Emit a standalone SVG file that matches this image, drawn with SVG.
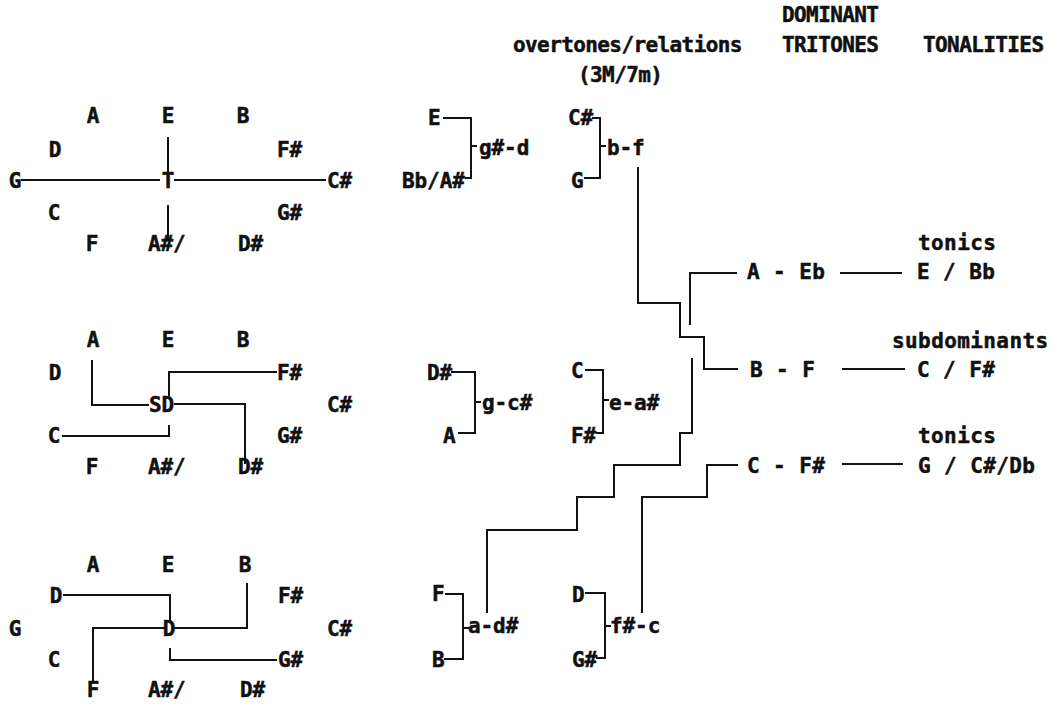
<svg xmlns="http://www.w3.org/2000/svg" width="1054" height="705" viewBox="0 0 1054 705">
<style>
text{font-family:"DejaVu Sans Mono","Liberation Mono",monospace;font-weight:bold;font-size:21px;fill:#111;stroke:#111;stroke-width:0.5;letter-spacing:-0.1px}
.h{letter-spacing:-0.6px}
.m{text-anchor:middle}
.r{letter-spacing:0.4px}
path{fill:none;stroke:#111;stroke-width:2}
</style>
<rect width="1054" height="705" fill="#fff"/>
<g id="headers">
<text class="h" x="782" y="22">DOMINANT</text>
<text class="h" x="513" y="52">overtones/relations</text>
<text class="h" x="782" y="52">TRITONES</text>
<text class="h" x="923" y="52">TONALITIES</text>
<text class="h" x="578" y="82">(3M/7m)</text>
</g>
<g id="tonic-circle">
<text class="m" x="93" y="123">A</text><text class="m" x="168" y="123">E</text><text class="m" x="243" y="123">B</text>
<text class="m" x="55" y="157">D</text><text x="277" y="157">F#</text>
<text class="m" x="15" y="188">G</text><text class="m" x="168" y="188">T</text><text x="327" y="188">C#</text>
<text class="m" x="54" y="220">C</text><text x="277" y="220">G#</text>
<text class="m" x="92" y="251">F</text><text x="148" y="251">A#/</text><text x="238" y="251">D#</text>
</g>
<g id="subdominant-circle">
<text class="m" x="93" y="347">A</text><text class="m" x="168" y="347">E</text><text class="m" x="243" y="347">B</text>
<text class="m" x="55" y="380">D</text><text x="277" y="380">F#</text>
<text x="149" y="412">SD</text><text x="327" y="412">C#</text>
<text class="m" x="54" y="443">C</text><text x="277" y="443">G#</text>
<text class="m" x="92" y="474">F</text><text x="148" y="474">A#/</text><text x="238" y="474">D#</text>
</g>
<g id="dominant-circle">
<text class="m" x="93" y="572">A</text><text class="m" x="168" y="572">E</text><text class="m" x="245" y="572">B</text>
<text class="m" x="56" y="603">D</text><text x="278" y="603">F#</text>
<text class="m" x="15" y="636">G</text><text class="m" x="169" y="636">D</text><text x="327" y="636">C#</text>
<text class="m" x="54" y="667">C</text><text x="278" y="667">G#</text>
<text class="m" x="93" y="697">F</text><text x="148" y="697">A#/</text><text x="240" y="697">D#</text>
</g>
<g id="relation-gs-d">
<text x="428" y="125">E</text><text x="479" y="155">g#-d</text><text x="402" y="188">Bb/A#</text>
</g>
<g id="relation-b-f">
<text x="568" y="125">C#</text><text x="607" y="155">b-f</text><text x="571" y="188">G</text>
</g>
<g id="relation-g-cs">
<text x="427" y="380">D#</text><text x="482" y="410">g-c#</text><text x="443" y="443">A</text>
</g>
<g id="relation-e-as">
<text x="571" y="378">C</text><text x="609" y="410">e-a#</text><text x="571" y="443">F#</text>
</g>
<g id="relation-a-ds">
<text x="432" y="601">F</text><text x="468" y="633">a-d#</text><text x="432" y="667">B</text>
</g>
<g id="relation-fs-c">
<text x="572" y="602">D</text><text x="610" y="633">f#-c</text><text x="572" y="667">G#</text>
</g>
<g id="tritone-A-Eb"><text class="r" x="747" y="279">A - Eb</text></g>
<g id="tritone-B-F"><text class="r" x="750" y="377">B - F</text></g>
<g id="tritone-C-Fs"><text class="r" x="747" y="473">C - F#</text></g>
<g id="tonality-1"><text class="r" x="918" y="250">tonics</text><text class="r" x="917" y="279">E / Bb</text></g>
<g id="tonality-2"><text class="r" x="892" y="348">subdominants</text><text class="r" x="917" y="377">C / F#</text></g>
<g id="tonality-3"><text class="r" x="918" y="443">tonics</text><text class="r" x="918" y="473">G / C#/Db</text></g>
<g id="connectors">
<path d="M21,180 H160 M174,180 H326 M168,137 V174 M168,205 V240"/>
<path d="M92,360 V405 H149 M169,396 V372 H277 M174,404 H245 V464 M62,436 H169 V425"/>
<path d="M63,595 H170 V622 M165,628 H93 V682 M174,628 H247 V583 M170,648 V660 H277"/>
<path d="M443,118 H471 V178 H465 M471,146 H477"/>
<path d="M592,118 H600 V178 H584 M600,146 H606"/>
<path d="M451,372 H475 V433 H458 M475,402 H481"/>
<path d="M585,370 H603 V433 H596 M603,400 H609"/>
<path d="M445,594 H463 V659 H444 M463,628 H469"/>
<path d="M585,593 H605 V658 H596 M605,626 H611"/>
<path d="M638,167 V303 H680 V337 H704 V369 H738"/>
<path d="M690,325 V273 H737"/>
<path d="M487,613 V530 H577 V497 H614 V465 H680 V433 H692 V358"/>
<path d="M642,613 V497 H707 V465 H738"/>
<path d="M840,273 H902 M842,369 H905 M842,464 H903"/>
</g>
</svg>
